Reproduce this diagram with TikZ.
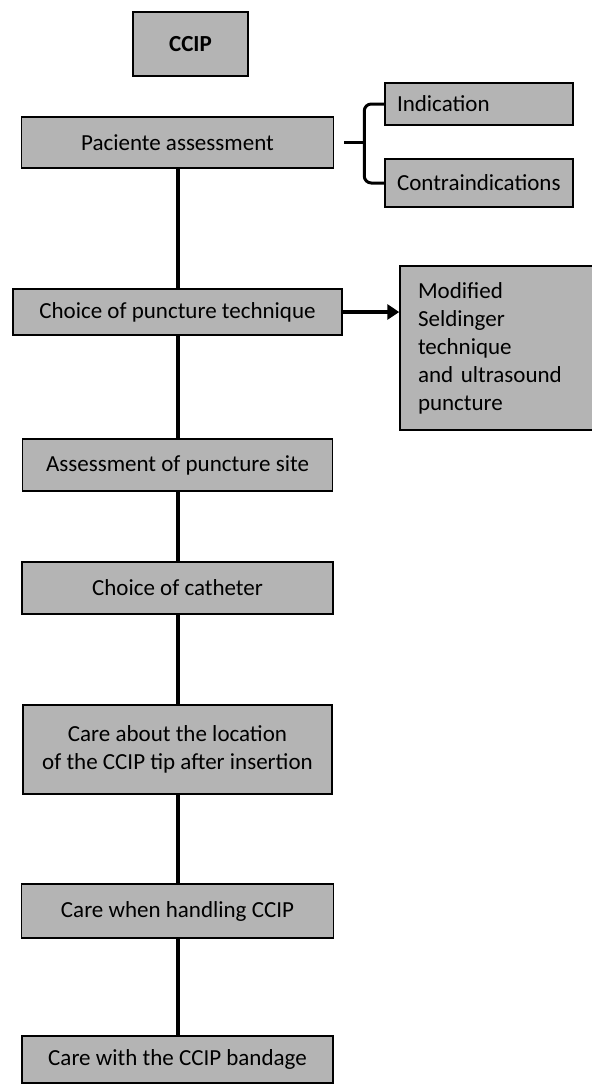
\documentclass[tikz,border=0pt]{standalone}
\usepackage{fontspec}
\setmainfont{Carlito}
\usetikzlibrary{arrows.meta}
\definecolor{boxgray}{RGB}{180,180,180}
\begin{document}
\begin{tikzpicture}[x=1pt,y=-1pt,
    stepbox/.style={draw=black,line width=1.5pt,fill=boxgray,inner sep=0pt,align=center,
      font=\fontsize{23}{28}\selectfont},
    link/.style={line width=4pt},
    brace/.style={line width=3pt}]
    \useasboundingbox (0,0) rectangle (592,1085);
    % main column
    \node[stepbox,minimum width=115,minimum height=64,font=\bfseries\fontsize{23}{28}\selectfont] (ccip) at (190.5,44) {CCIP};
    \node[stepbox,minimum width=312,minimum height=51] (pac) at (177.5,142.5) {Paciente assessment};
    \node[stepbox,minimum width=329,minimum height=46] (punct) at (177.5,312) {Choice of puncture technique};
    \node[stepbox,minimum width=310,minimum height=52] (site) at (177.5,465) {Assessment of puncture site};
    \node[stepbox,minimum width=311,minimum height=52] (cath) at (177.5,588) {Choice of catheter};
    \node[stepbox,minimum width=309,minimum height=89] (loc) at (177.5,749.5) {Care about the location\\of the CCIP tip after insertion};
    \node[stepbox,minimum width=312,minimum height=54] (hand) at (177.5,911) {Care when handling CCIP};
    \node[stepbox,minimum width=311,minimum height=47] (band) at (177.5,1059.5) {Care with the CCIP bandage};
    % side boxes
    \node[stepbox,align=left,inner xsep=12pt,text width=164pt,minimum height=42] (ind) at (479,104) {Indication};
    \node[stepbox,align=left,inner xsep=12pt,text width=164pt,minimum height=48] (contra) at (479,183) {Contraindications};
    \node[stepbox,align=left,inner xsep=18pt,text width=158pt,minimum height=164] (mod) at (497,348) {Modified\\Seldinger\\technique\\and ultrasound\\puncture};
    % connectors
    \foreach \a/\b in {pac/punct,punct/site,site/cath,cath/loc,loc/hand,hand/band}
        \draw[link] (\a.south) -- (\b.north);
    \coordinate (brtip) at ([xshift=10pt]pac.east);
    \coordinate (brmid) at ([xshift=30pt]pac.east);
    \draw[brace] (brtip) -- (brmid);
    \draw[brace,rounded corners=7pt] (ind.west) -| (brmid) |- (contra.west);
    \draw[link,-{Triangle[length=12pt,width=15pt]}] (punct.east) -- (punct.east -| mod.west);
\end{tikzpicture}
\end{document}
